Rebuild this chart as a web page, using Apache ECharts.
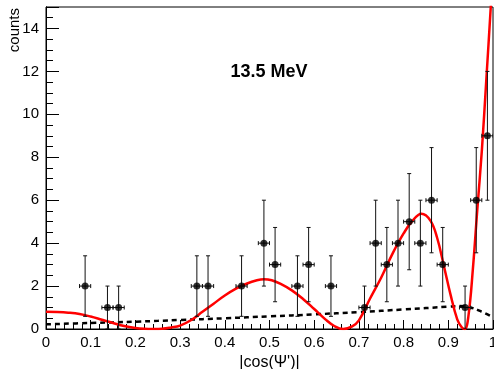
<!DOCTYPE html>
<html>
<head>
<meta charset="utf-8">
<script src="https://cdn.jsdelivr.net/npm/echarts@6/dist/echarts.min.js"></script>
<style>
html,body{margin:0;padding:0;background:#fff;}
#chart{width:494px;height:369px;}
</style>
</head>
<body>
<div id="chart"></div>
<script>
// ---- data ----
const binCenters = [0.0875, 0.1375, 0.1625, 0.3375, 0.3625, 0.4375, 0.4875, 0.5125, 0.5625, 0.5875, 0.6375,
  0.7125, 0.7375, 0.7625, 0.7875, 0.8125, 0.8375, 0.8625, 0.8875, 0.9375, 0.9625, 0.9875];
const counts = [2, 1, 1, 2, 2, 2, 4, 3, 2, 3, 2, 1, 4, 3, 4, 5, 4, 6, 3, 1, 6, 9];
const countErrors = [1.41, 1, 1, 1.41, 1.41, 1.41, 2, 1.73, 1.41, 1.73, 1.41, 1, 2, 1.73, 2, 2.24, 2, 2.45, 1.73, 1, 2.45, 3];
const binHalfWidths = [0.0125, 0.0125, 0.0125, 0.0125, 0.0125, 0.0125, 0.0125, 0.0125, 0.0125, 0.0125, 0.0125,
  0.0125, 0.0125, 0.0125, 0.0125, 0.0125, 0.0125, 0.0125, 0.0125, 0.0125, 0.0125, 0.0125];

// fitted curve (red)
const fitX = [0, 0.025, 0.05, 0.075, 0.1, 0.125, 0.15, 0.175, 0.2, 0.22, 0.24, 0.26, 0.28, 0.3, 0.325, 0.35, 0.375,
  0.4, 0.425, 0.45, 0.47, 0.4875, 0.505, 0.525, 0.55, 0.575, 0.6, 0.625, 0.645, 0.665, 0.685, 0.7, 0.725, 0.75, 0.775,
  0.8, 0.82, 0.84, 0.86, 0.875, 0.89, 0.905, 0.92, 0.93, 0.937, 0.945, 0.955, 0.965, 0.975, 0.985, 0.995, 1.0];
const fitY = [0.80, 0.79, 0.76, 0.70, 0.58, 0.43, 0.28, 0.14, 0.05, 0.01, 0.0, 0.01, 0.07, 0.16, 0.42, 0.80, 1.18,
  1.56, 1.88, 2.12, 2.26, 2.32, 2.27, 2.10, 1.80, 1.40, 0.93, 0.45, 0.14, 0.0, 0.12, 0.40, 1.42, 2.40, 3.50,
  4.45, 5.05, 5.37, 5.05, 4.25, 2.95, 1.60, 0.45, 0.08, 0.0, 0.6, 2.8, 5.6, 8.3, 11.6, 15.0, 16.8];

// dotted curve (black)
const bkgX = [0, 0.1, 0.2, 0.3, 0.4, 0.5, 0.6, 0.7, 0.8, 0.9, 0.925, 0.95, 0.975, 1.0];
const bkgY = [0.22, 0.28, 0.34, 0.42, 0.50, 0.59, 0.68, 0.79, 0.91, 1.04, 1.07, 1.00, 0.80, 0.55];

const xTickStep = 0.1;
const yMajorStep = 2;
const yMinorStep = 0.5;
const yMax = 15;
const chartLabel = '13.5 MeV';
const xTitle = "|cos(\u03A8')|";
const yTitle = 'counts';

// ---- chart ----
const FONT = "'Liberation Sans', Arial, Helvetica, sans-serif";
const chart = echarts.init(document.getElementById('chart'), null, {renderer: 'canvas'});

const pointData = binCenters.map((x, i) => [x, counts[i]]);
const errData = binCenters.map((x, i) => [x, counts[i], countErrors[i], binHalfWidths[i]]);
const fitData = fitX.map((x, i) => [x, fitY[i]]);
const bkgData = bkgX.map((x, i) => [x, bkgY[i]]);

function fmtX(v) {
  const r = Math.round(v * 10) / 10;
  return String(r);
}

const option = {
  animation: false,
  backgroundColor: '#fff',
  grid: {left: 46, right: 1, top: 7, bottom: 40, show: true, borderColor: '#000', borderWidth: 1,
    backgroundColor: 'transparent', containLabel: false, outerBoundsMode: 'none'},
  xAxis: [{
    type: 'value', min: 0, max: 1, interval: xTickStep,
    name: xTitle, nameLocation: 'middle', nameGap: 19,
    nameTextStyle: {fontFamily: FONT, fontSize: 16, color: '#000'},
    axisLine: {show: true, onZero: false, lineStyle: {color: '#000', width: 1}},
    axisTick: {show: true, inside: true, length: 9, lineStyle: {color: '#000', width: 1}},
    minorTick: {show: true, splitNumber: 5, length: 5, lineStyle: {color: '#000', width: 1}},
    axisLabel: {show: true, margin: 6, fontFamily: FONT, fontSize: 15, color: '#000', formatter: fmtX,
      showMinLabel: true, showMaxLabel: true, hideOverlap: false},
    splitLine: {show: false}, minorSplitLine: {show: false}
  }],
  yAxis: [{
    type: 'value', min: 0, max: yMax, interval: yMinorStep, position: 'left',
    axisLine: {show: true, onZero: false, lineStyle: {color: '#000', width: 1}},
    axisTick: {show: true, inside: true, length: 7, lineStyle: {color: '#000', width: 1}},
    axisLabel: {show: false},
    splitLine: {show: false}
  }, {
    type: 'value', min: 0, max: yMax, interval: yMajorStep, position: 'left', offset: 0,
    axisLine: {show: true, onZero: false, lineStyle: {color: '#000', width: 1}},
    axisTick: {show: true, inside: true, length: 13, lineStyle: {color: '#000', width: 1}},
    axisLabel: {show: true, margin: 7, fontFamily: FONT, fontSize: 15, color: '#000',
      formatter: v => (v % 2 === 0 ? String(v) : ''), hideOverlap: false},
    splitLine: {show: false}
  }],
  graphic: [{
    type: 'text', x: 269, y: 72, z: 100,
    style: {text: chartLabel, font: "bold 18px " + FONT, fill: '#000', align: 'center', verticalAlign: 'middle'}
  }, {
    type: 'text', x: 15, y: 8, rotation: Math.PI / 2, z: 100,
    style: {text: yTitle, font: "15px " + FONT, fill: '#000', align: 'right', verticalAlign: 'middle'}
  }],
  series: [{
    type: 'line', data: fitData, xAxisIndex: 0, yAxisIndex: 0,
    smooth: 0.4, showSymbol: false, symbol: 'none', clip: true,
    lineStyle: {color: '#ff0000', width: 2.5}, z: 3, silent: true
  }, {
    type: 'line', data: bkgData, xAxisIndex: 0, yAxisIndex: 0,
    smooth: 0.4, showSymbol: false, symbol: 'none', clip: true,
    lineStyle: {color: '#000', width: 2.5, type: [5, 4]}, z: 2, silent: true
  }, {
    type: 'custom', data: errData, xAxisIndex: 0, yAxisIndex: 0, clip: true, z: 4, silent: true,
    encode: {x: 0, y: 1},
    renderItem: function (params, api) {
      const x = api.value(0), y = api.value(1), ey = api.value(2), ex = api.value(3);
      const top = api.coord([x, y + ey]);
      const bot = api.coord([x, Math.max(0, y - ey)]);
      const l = api.coord([x - ex, y]);
      const r = api.coord([x + ex, y]);
      const c = api.coord([x, y]);
      const st = {stroke: '#111', lineWidth: 1};
      const cap = 2;
      return {
        type: 'group',
        children: [
          {type: 'line', shape: {x1: top[0], y1: top[1], x2: bot[0], y2: bot[1]}, style: st},
          {type: 'line', shape: {x1: top[0] - cap, y1: top[1], x2: top[0] + cap, y2: top[1]}, style: st},
          {type: 'line', shape: {x1: bot[0] - cap, y1: bot[1], x2: bot[0] + cap, y2: bot[1]}, style: st},
          {type: 'line', shape: {x1: l[0], y1: c[1], x2: r[0], y2: c[1]}, style: st},
          {type: 'line', shape: {x1: l[0], y1: c[1] - cap, x2: l[0], y2: c[1] + cap}, style: st},
          {type: 'line', shape: {x1: r[0], y1: c[1] - cap, x2: r[0], y2: c[1] + cap}, style: st}
        ]
      };
    }
  }, {
    type: 'scatter', data: pointData, xAxisIndex: 0, yAxisIndex: 0,
    symbol: 'circle', symbolSize: 7, itemStyle: {color: '#000'}, z: 5, silent: true
  }]
};
chart.setOption(option);
</script>
</body>
</html>
